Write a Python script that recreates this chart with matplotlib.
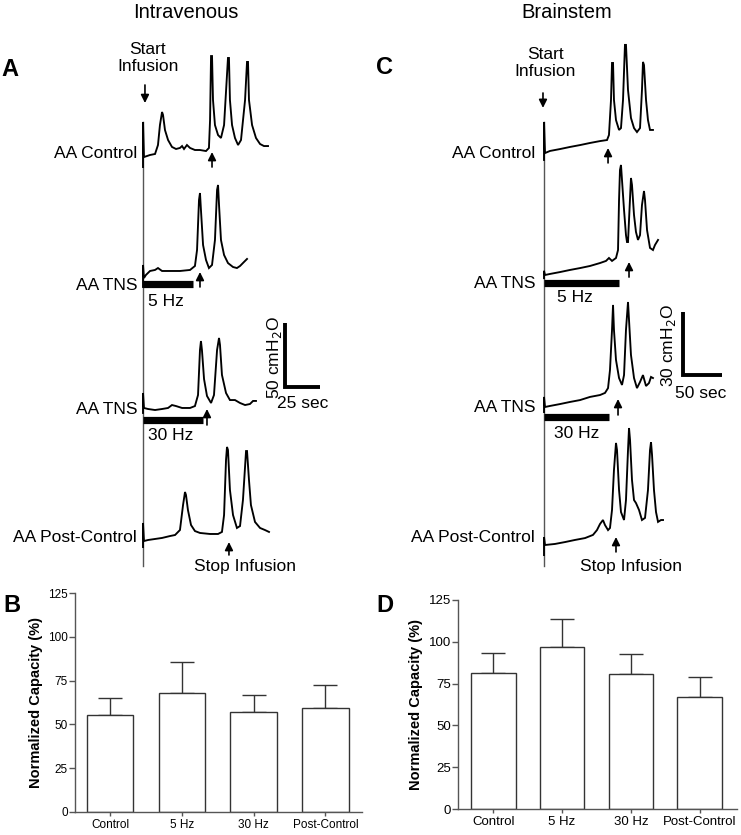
import matplotlib
matplotlib.use("Agg")
import matplotlib.pyplot as plt

plt.rcParams['font.family'] = ['Liberation Sans', 'DejaVu Sans']

W, H = 741, 835

# ---- cystometrogram traces: time (sec) and pressure (cmH2O) re. trace baseline ----
# Panel A (intravenous)
a_ctrl_t = [0, 0, 0.7, 5, 8.6, 10.7, 12.1, 13.6, 14.3, 15.7, 17.9, 20.7, 23.6, 26.4, 27.9, 29.3, 31.4,
            33.6, 37.1, 40.7, 45, 47.1, 47.9, 48.6, 49.3, 50, 51.4, 53.6, 55.7, 57.9, 60.7, 61.4, 62.1,
            63.6, 65.7, 67.9, 70, 72.9, 74.3, 75, 75.7, 77.9, 80.7, 83.6, 86.4, 89.3]
a_ctrl_p = [-9.4, 25.8, -1.6, 0, 0.8, 7.8, 23.4, 33.6, 31.3, 19.5, 11.7, 6.3, 4.7, 5.5, 7.0, 4.7, 7.8,
            5.5, 3.9, 3.9, 3.1, 5.5, 27.3, 77.3, 77.3, 43, 23.4, 15.6, 13.3, 23.4, 75.8, 75.8, 43,
            23.4, 13.3, 7.8, 11.7, 43, 72.7, 72.7, 43, 23.4, 13.3, 8.6, 7.0, 7.0]

a_5hz_t = [0, 0, 0.7, 2.1, 5, 8.6, 10.7, 13.6, 19.3, 26.4, 33.6, 37.1, 38.6, 40, 40.7, 41.4, 42.9, 45,
           47.1, 49.3, 51.4, 52.9, 53.6, 54.3, 55.7, 57.9, 60.7, 64.3, 67.1, 69.3, 72.1, 74.3]
a_5hz_p = [-7.8, 9.4, -0.8, 1.6, 4.7, 5.5, 7.0, 4.7, 4.7, 4.7, 5.5, 8.6, 21.1, 60.2, 65.6, 52.3, 25, 13.3,
           7.0, 9.4, 28.9, 68, 71.9, 56.3, 28.9, 17.2, 10.9, 7.8, 7.0, 8.6, 11.7, 14.1]

a_30hz_t = [0, 0, 0.7, 3.6, 8.6, 13.6, 17.9, 20.7, 23.6, 27.9, 33.6, 37.1, 39.3, 40.7, 41.4, 42.1, 43.6,
            45.7, 48.6, 50.7, 52.9, 54.3, 55, 56.4, 59.3, 62.1, 65.7, 69.3, 72.9, 76.4, 78.6, 80.7]
a_30hz_p = [-3.1, 12.5, 0.8, 0, -0.8, 0, 0.8, 3.1, 2.3, 0.8, 0.8, 2.3, 10.9, 46.1, 53.1, 46.1, 23.4,
            10.2, 4.7, 10.9, 46.1, 55.5, 50, 26.6, 12.5, 7.0, 7.0, 4.7, 3.1, 3.9, 6.3, 6.3]

a_post_t = [0, 0, 0.7, 3.6, 8.6, 13.6, 19.3, 22.9, 26.4, 28.6, 30, 30.7, 32.1, 34.3, 37.1, 40.7, 47.9,
            53.6, 56.4, 57.9, 59.3, 60, 60.7, 62.1, 64.3, 67.1, 69.3, 71.4, 73.6, 74.3, 75.7, 77.1, 80,
            83.6, 87.1, 90]
a_post_p = [-5.5, 13.3, -0.8, 0, 0.8, 1.6, 3.1, 3.9, 7.8, 27.3, 37.5, 35.2, 23.4, 11.7, 7.0, 5.5, 4.7,
            4.7, 6.3, 19.5, 62.5, 72.7, 70.3, 39.1, 19.5, 9.4, 10.9, 31.3, 69.5, 69.5, 46.9, 27.3, 14.1,
            9.4, 7.8, 6.3]

# Panel C (brainstem)
c_ctrl_t = [0, 0, 1.3, 7.7, 20.5, 33.3, 46.2, 59, 71.8, 80.8, 83.3, 85.9, 87.2, 88.5, 89.7, 92.3, 96.2,
            98.7, 101.3, 103.8, 105.1, 107.7, 111.5, 115.4, 119.2, 123.1, 125.6, 126.9, 128.2, 130.8,
            133.3, 135.9, 139.7]
c_ctrl_p = [-3.8, 14.3, -0.5, 0.5, 1.4, 2.4, 3.3, 4.3, 5.2, 5.7, 8.1, 24.8, 42.4, 42.4, 24.8, 15.2, 10.5,
            11.4, 24.8, 51, 51, 29.5, 16.2, 11.4, 9.5, 11.4, 29.5, 42.9, 41.4, 24.8, 15.2, 10.5, 10.5]

c_5hz_t = [0, 0, 1.3, 7.7, 20.5, 33.3, 46.2, 59, 71.8, 79.5, 83.3, 87.2, 92.3, 94.9, 96.2, 97.4, 98.7,
           100, 102.6, 105.1, 106.4, 107.7, 109, 111.5, 112.8, 115.4, 117.9, 120.5, 123.1, 125.6, 128.2,
           129.5, 132.1, 135.9, 139.7, 142.3, 146.2]
c_5hz_p = [-1.5, 2.0, 0, 0.5, 1.4, 2.4, 3.3, 4.3, 5.7, 6.7, 8.1, 6.7, 8.1, 11.9, 35.7, 50, 52.4,
           45.2, 31, 19, 15.7, 15.7, 26.2, 46.2, 42.9, 28.6, 20.5, 16.7, 19, 33.3, 40,
           35.7, 21.4, 12.9, 11.9, 14.3, 16.7]

c_30hz_t = [0, 0, 1.3, 7.7, 20.5, 33.3, 46.2, 59, 71.8, 78.2, 82.1, 84.6, 87.2, 88.5, 89.7, 92.3, 96.2,
            100, 102.6, 105.1, 107.7, 109, 111.5, 115.4, 119.2, 123.1, 126.9, 130.8, 134.6, 137.2, 139.7]
c_30hz_p = [-2.4, 4.8, 0, 0.5, 1.4, 2.4, 3.3, 4.8, 5.7, 6.7, 9.0, 17.6, 36.7, 48.6, 36.7, 22.4, 13.8,
            10.5, 15.2, 36.7, 50, 41.4, 24.8, 13.8, 9.0, 11.9, 15.2, 10, 11.4, 14.3, 13.8]

c_post_t = [0, 0, 1.3, 14.1, 26.9, 39.7, 52.6, 62.8, 67.9, 71.8, 75.6, 78.2, 82.1, 84.6, 87.2, 89.7, 92.3,
            93.6, 96.2, 98.7, 102.6, 105.1, 107.7, 109, 110.3, 112.8, 115.4, 117.9, 121.8, 125.6, 129.5,
            133.3, 135.9, 137.2, 138.5, 141, 143.6, 146.2, 150, 152.6]
c_post_p = [-4.8, 3.8, 0, 0.5, 1.4, 2.4, 3.3, 4.8, 7.1, 10, 11.9, 9.5, 7.1, 8.1, 16.7, 35.7, 48.6,
            45.2, 26.2, 15.7, 11.9, 21.4, 45.2, 55.7, 50, 31, 21.4, 20, 16.7, 11.9, 12.9,
            26.2, 45.2, 49, 42.9, 26.2, 15.7, 11, 11.9, 11.9]

row_labels = ['AA Control', 'AA TNS', 'AA TNS', 'AA Post-Control']
stim_labels = ['5 Hz', '30 Hz']
a_stim_end = [35.7, 42.9]          # sec, end of TNS period
c_stim_end = [96.2, 83.3]
a_void_t = [49.3, 40.7, 45.7, 61.4]   # arrows marking voids / stop infusion
c_void_t = [82.1, 109.0, 94.9, 92.3]

# ---- bar chart data ----
groups = ['Control', '5 Hz', '30 Hz', 'Post-Control']
iv_mean = [55.2, 68.2, 57.0, 59.3]
iv_sem = [10.0, 17.4, 9.9, 13.0]
bs_mean = [81.2, 97.1, 80.6, 66.8]
bs_sem = [11.9, 16.5, 12.1, 12.3]

fig = plt.figure(figsize=(W / 100, H / 100), dpi=100)


def fx(x):
    return x / W


def fy(y):
    return 1 - y / H


def ftext(x, y, s, **kw):
    fig.text(fx(x), fy(y), s, **kw)


def trace_axes(x0, x1, zero_px, sec_px, cm_px):
    # axes covering figure columns x0..x1 and rows 0..590 px, in sec / cmH2O
    ax = fig.add_axes([fx(x0), fy(590), fx(x1 - x0), 590 / H])
    ax.set_xlim((x0 - zero_px) / sec_px, (x1 - zero_px) / sec_px)
    ax.set_ylim(0, 590 / cm_px)
    ax.axis('off')
    return ax


ARROW = dict(arrowstyle='-|>', color='black', lw=1.2, mutation_scale=12, shrinkA=0, shrinkB=0)


def up_arrow(ax, t, y0, y1):
    ax.annotate('', xy=(t, y1), xytext=(t, y0), arrowprops=ARROW)


def draw_panel(ax, traces, offsets, stim_end, stim_y, void_t, void_y, cm_px,
               line_top, scale_xy, scale_vals):
    # infusion onset line
    ax.plot([0, 0], [line_top, 24 / cm_px], color='#555555', lw=1.0)
    for (t, p), off in zip(traces, offsets):
        ax.plot(t, [v + off for v in p], color='black', lw=1.35, solid_joinstyle='miter')
    for k, end in enumerate(stim_end):
        y = offsets[k + 1] + stim_y[k]
        ax.plot([0, end], [y, y], color='black', lw=5.2, solid_capstyle='butt')
    for k, t in enumerate(void_t):
        y0, y1 = void_y[k]
        up_arrow(ax, t, offsets[k] + y0, offsets[k] + y1)
    sx, sy = scale_xy
    ax.plot([sx, sx, sx + scale_vals[1]], [sy + scale_vals[0], sy, sy],
            color='black', lw=2.8, solid_joinstyle='miter', solid_capstyle='butt')


# ---------------- Panel A ----------------
axA = trace_axes(0, 370, 143, 1.4, 1.28)
a_off = [(590 - b) / 1.28 for b in (155, 277, 409, 540)]
draw_panel(axA, [(a_ctrl_t, a_ctrl_p), (a_5hz_t, a_5hz_p), (a_30hz_t, a_30hz_p), (a_post_t, a_post_p)],
           a_off, a_stim_end, [-5.5, -8.6], a_void_t,
           [(-9.4, 2.3), (-7.8, 3.9), (-12.5, 0.0), (-11.7, -1.6)], 1.28,
           (590 - 122) / 1.28, (101.4, 158.6), (50, 25))
# start infusion arrow (downward)
axA.annotate('', xy=(1.4, a_off[0] + 40.6), xytext=(1.4, a_off[0] + 54.7), arrowprops=ARROW)

# ---------------- Panel C ----------------
axC = trace_axes(370, 741, 544, 0.78, 2.1)
c_off = [(590 - b) / 2.1 for b in (152, 275, 407, 545)]
draw_panel(axC, [(c_ctrl_t, c_ctrl_p), (c_5hz_t, c_5hz_p), (c_30hz_t, c_30hz_p), (c_post_t, c_post_p)],
           c_off, c_stim_end, [-3.8, -4.8], c_void_t,
           [(-5.2, 1.9), (-1.0, 6.2), (-3.8, 3.8), (-3.3, 3.8)], 2.1,
           (590 - 122) / 2.1, (178.2, 102.4), (30, 50))
axC.annotate('', xy=(-1.3, c_off[0] + 21.0), xytext=(-1.3, c_off[0] + 28.1), arrowprops=ARROW)

# ---------------- text for trace panels ----------------
ftext(186, 13, 'Intravenous', ha='center', va='center', fontsize=14.5)
ftext(567, 13, 'Brainstem', ha='center', va='center', fontsize=14.5)
ftext(1, 70, 'A', ha='left', va='center', fontsize=17, fontweight='bold')
ftext(376, 67, 'C', ha='left', va='center', fontsize=17, fontweight='bold')
ftext(148, 58, 'Start\nInfusion', ha='center', va='center', fontsize=12.5, linespacing=1.15)
ftext(545, 63, 'Start\nInfusion', ha='center', va='center', fontsize=12.5, linespacing=1.15)

for lab, y in zip(row_labels, (154, 285, 409, 537)):
    ftext(137, y, lab, ha='right', va='center', fontsize=12.5)
for lab, y in zip(row_labels, (154, 284, 408, 537)):
    ftext(535, y, lab, ha='right', va='center', fontsize=12.5)

ftext(148, 302, stim_labels[0], ha='left', va='center', fontsize=12.5)
ftext(148, 436, stim_labels[1], ha='left', va='center', fontsize=12.5)
ftext(557, 298, stim_labels[0], ha='left', va='center', fontsize=12.5)
ftext(554, 434, stim_labels[1], ha='left', va='center', fontsize=12.5)
ftext(245, 567, 'Stop Infusion', ha='center', va='center', fontsize=12.5)
ftext(631, 567, 'Stop Infusion', ha='center', va='center', fontsize=12.5)

ftext(274, 357, '50 cmH$_2$O', ha='center', va='center', fontsize=12.5, rotation=90)
ftext(303, 404, '25 sec', ha='center', va='center', fontsize=12.5)
ftext(669, 345, '30 cmH$_2$O', ha='center', va='center', fontsize=12.5, rotation=90)
ftext(701, 393, '50 sec', ha='center', va='center', fontsize=12.5)


# ---------------- bar charts ----------------
def bar_panel(rect, means, sems, xlim, fs):
    ax = fig.add_axes(rect)
    x = list(range(len(groups)))
    ax.bar(x, means, width=0.65, color='white', edgecolor='#333333', linewidth=1.0, zorder=2)
    ax.errorbar(x, means, yerr=[[0] * len(sems), sems], fmt='none', ecolor='#333333',
                elinewidth=1.0, capsize=8.3, capthick=1.0, zorder=1)
    ax.set_xlim(*xlim)
    ax.set_ylim(0, 125)
    ax.set_yticks([0, 25, 50, 75, 100, 125])
    ax.set_xticks(x)
    ax.set_xticklabels(groups, fontsize=fs)
    ax.tick_params(axis='y', labelsize=fs, length=4, width=1, color='#555555', pad=1)
    ax.tick_params(axis='x', length=3, width=1, color='#555555', pad=2)
    for s in ('top', 'right'):
        ax.spines[s].set_visible(False)
    for s in ('left', 'bottom'):
        ax.spines[s].set_color('#555555')
        ax.spines[s].set_linewidth(1.0)
    ax.set_ylabel('Normalized Capacity (%)', fontsize=10.5, fontweight='bold', labelpad=4)
    return ax


bar_panel([fx(75), fy(812), fx(287), (812 - 593) / H], iv_mean, iv_sem, (-0.49, 3.51), 8.5)
bar_panel([fx(458), fy(809), fx(279), (809 - 600) / H], bs_mean, bs_sem, (-0.51, 3.54), 9.5)
ftext(3, 605, 'B', ha='left', va='center', fontsize=17, fontweight='bold')
ftext(376, 605, 'D', ha='left', va='center', fontsize=17, fontweight='bold')

fig.savefig('out.png', dpi=100)
